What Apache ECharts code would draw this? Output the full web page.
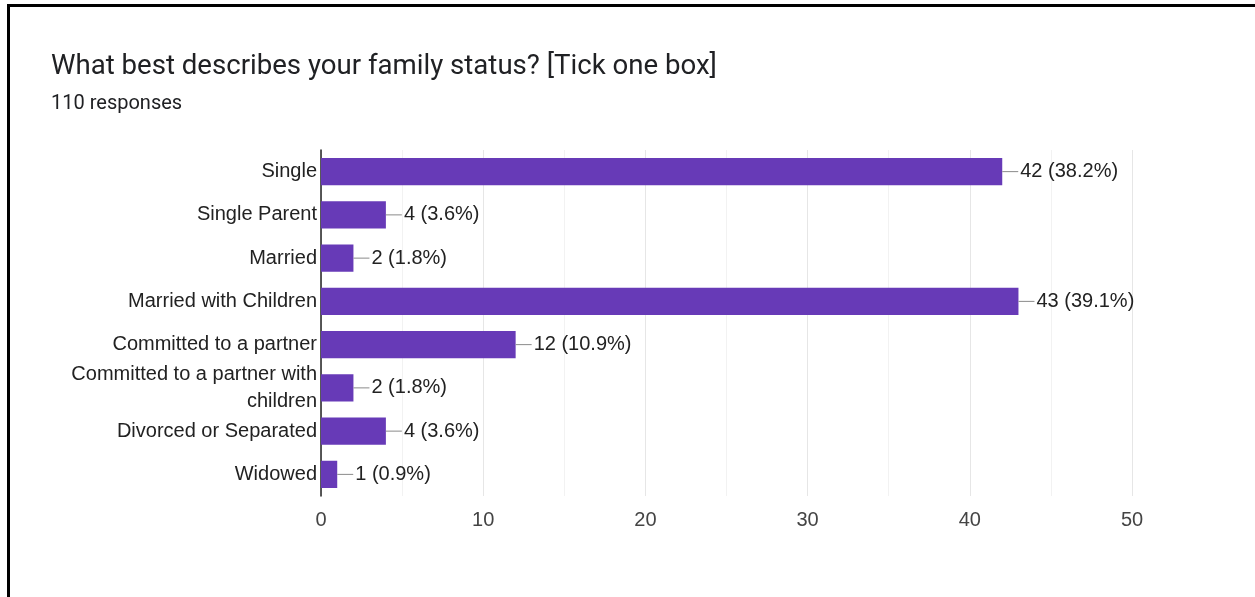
<!DOCTYPE html>
<html>
<head>
<meta charset="utf-8">
<script src="https://cdn.jsdelivr.net/npm/echarts@6/dist/echarts.min.js"></script>
<style>
  html, body { margin: 0; padding: 0; background: #fff; }
  #frame { position: absolute; left: 0; top: 0; width: 1255px; height: 597px; }
  #frame::before { content: ""; position: absolute; left: 7px; top: 4px; width: 3px; height: 593px; background: #000; }
  #frame::after { content: ""; position: absolute; left: 7px; top: 4px; width: 1248px; height: 3px; background: #000; }
  #chart { position: absolute; left: 0; top: 0; width: 1255px; height: 597px; }
</style>
</head>
<body>
<div id="frame"></div>
<div id="chart"></div>
<script>
// Survey answers and counts
const categories = [
  'Single',
  'Single Parent',
  'Married',
  'Married with Children',
  'Committed to a partner',
  'Committed to a partner with children',
  'Divorced or Separated',
  'Widowed'
];
const counts = [42, 4, 2, 43, 12, 2, 4, 1];
const percents = ['38.2%', '3.6%', '1.8%', '39.1%', '10.9%', '1.8%', '3.6%', '0.9%'];
const xTicks = [0, 10, 20, 30, 40, 50];
const titleText = 'What best describes your family status? [Tick one box]';
const subtitleText = '110 responses';

const labelFont = '"Liberation Sans", Arial, sans-serif';
const labelSize = 20;
const labelMaxWidth = 256;

// Word-wrap long category names without leaving a trailing space on a line
const measureCtx = document.createElement('canvas').getContext('2d');
measureCtx.font = labelSize + 'px ' + labelFont;
function wrapLabel(text) {
  const words = text.split(' ');
  const lines = [];
  let line = '';
  words.forEach(w => {
    const trial = line ? line + ' ' + w : w;
    if (line && measureCtx.measureText(trial).width > labelMaxWidth) {
      lines.push(line);
      line = w;
    } else {
      line = trial;
    }
  });
  lines.push(line);
  return lines.join('\n');
}

const chart = echarts.init(document.getElementById('chart'), null, { renderer: 'canvas' });

chart.setOption({
  animation: false,
  title: {
    text: titleText,
    subtext: subtitleText,
    left: 46,
    top: 48,
    itemGap: 13,
    textStyle: { fontFamily: 'Roboto', fontSize: 27.6, fontWeight: 'normal', color: '#202124' },
    subtextStyle: { fontFamily: 'Roboto', fontSize: 20, color: '#202124' }
  },
  grid: { left: 321, right: 123, top: 150, bottom: 101, containLabel: false },
  xAxis: {
    type: 'value',
    min: xTicks[0],
    max: xTicks[xTicks.length - 1],
    interval: 10,
    axisLine: { show: false },
    axisTick: { show: false },
    axisLabel: { fontFamily: labelFont, fontSize: labelSize, color: '#444', margin: 14 },
    splitLine: { show: true, lineStyle: { color: '#e6e6e6', width: 1 } },
    minorTick: { show: false, splitNumber: 2 },
    minorSplitLine: { show: true, lineStyle: { color: '#f2f2f2', width: 1 } }
  },
  yAxis: {
    type: 'category',
    data: categories,
    inverse: true,
    axisLine: { show: true, lineStyle: { color: '#222', width: 1.5 } },
    axisTick: { show: false },
    axisLabel: {
      fontFamily: labelFont, fontSize: labelSize, color: '#222', margin: 4,
      lineHeight: 27, align: 'right',
      formatter: wrapLabel
    }
  },
  series: [{
    type: 'bar',
    data: counts,
    barCategoryGap: '37%',
    itemStyle: { color: '#673ab7' },
    label: {
      show: true,
      position: 'right',
      distance: 0,
      formatter: p => '{ln|}{t|' + p.value + ' (' + percents[p.dataIndex] + ')}',
      rich: {
        ln: { width: 16, height: 1, backgroundColor: '#8a8a8a', verticalAlign: 'middle' },
        t: { fontFamily: labelFont, fontSize: labelSize, color: '#222', padding: [0, 0, 0, 2], verticalAlign: 'middle' }
      }
    }
  }]
});
</script>
</body>
</html>
